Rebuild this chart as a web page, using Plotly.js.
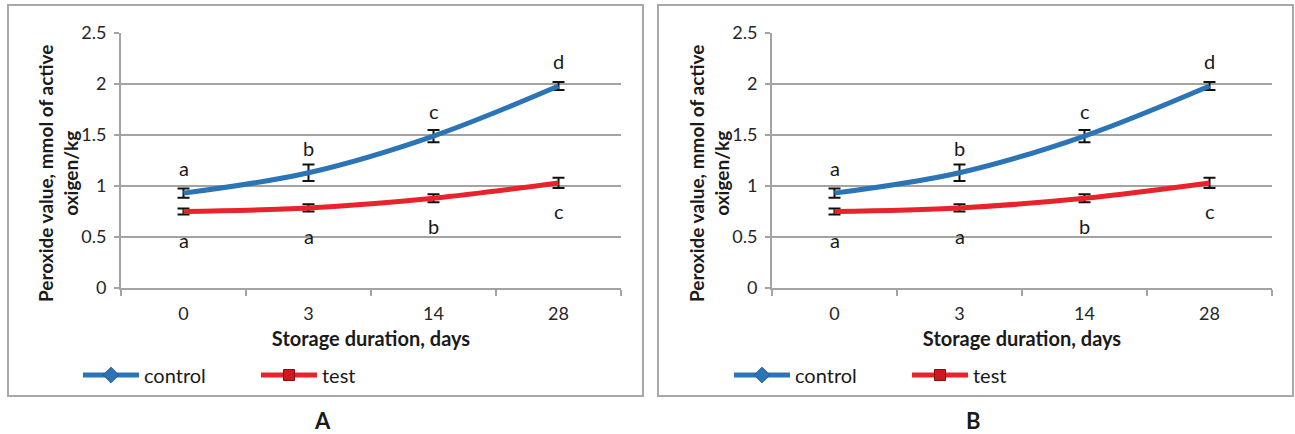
<!DOCTYPE html>
<html>
<head>
<meta charset="utf-8">
<script src="https://cdn.plot.ly/plotly-3.0.1.min.js"></script>
<style>html,body{margin:0;padding:0;background:#fff;}#chart{width:1295px;height:434px;}</style>
</head>
<body>
<div id="chart"></div>
<script>
// ---- data ----
const categories = ['0', '3', '14', '28'];
const controlValues = [0.93, 1.13, 1.49, 1.98];
const controlErrors = [0.045, 0.08, 0.06, 0.04];
const testValues = [0.75, 0.785, 0.88, 1.03];
const testErrors = [0.03, 0.035, 0.04, 0.05];
const controlLetters = ['a', 'b', 'c', 'd'];
const testLetters = ['a', 'a', 'b', 'c'];
const panelLabels = ['A', 'B'];
const seriesNames = ['control', 'test'];

// ---- style ----
const FONT = 'Lato, "Liberation Sans", sans-serif';
const BLUE = '#2b74b5';
const RED = '#e8232b';
const GRID = '#a3a3a3';
const W = 1295, H = 434;

const panels = [
  {xs: '', plotL: 121, plotR: 621, boxL: 8, boxR: 643},
  {xs: '2', plotL: 772, plotR: 1272, boxL: 658, boxR: 1293}
];
const plotT = 33, plotB = 288;

const data = [];
const layout = {
  width: W, height: H,
  margin: {l: 0, r: 0, t: 0, b: 0},
  paper_bgcolor: '#fff', plot_bgcolor: '#fff',
  font: {family: FONT, color: '#1a1a1a'},
  showlegend: true,
  shapes: [], annotations: []
};

panels.forEach((p, i) => {
  const xa = 'x' + p.xs, ya = 'y' + p.xs;
  const lg = i === 0 ? 'legend' : 'legend2';
  data.push({
    x: categories, y: controlValues, xaxis: xa, yaxis: ya,
    type: 'scatter', mode: 'lines', name: seriesNames[0], showlegend: false,
    line: {color: BLUE, width: 5, shape: 'spline', smoothing: 1},
    error_y: {type: 'data', array: controlErrors, visible: true, color: '#111', thickness: 2, width: 6}
  });
  data.push({
    x: categories, y: testValues, xaxis: xa, yaxis: ya,
    type: 'scatter', mode: 'lines', name: seriesNames[1], showlegend: false,
    line: {color: RED, width: 5, shape: 'spline', smoothing: 1},
    error_y: {type: 'data', array: testErrors, visible: true, color: '#111', thickness: 2, width: 6}
  });
  data.push({
    x: [null], y: [null], xaxis: xa, yaxis: ya, legend: lg,
    type: 'scatter', mode: 'lines+markers', name: seriesNames[0],
    line: {color: BLUE, width: 5},
    marker: {symbol: 'diamond', size: 12, color: BLUE, line: {color: '#1f5a8f', width: 1}}
  });
  data.push({
    x: [null], y: [null], xaxis: xa, yaxis: ya, legend: lg,
    type: 'scatter', mode: 'lines+markers', name: seriesNames[1],
    line: {color: RED, width: 5},
    marker: {symbol: 'square', size: 11, color: '#d0161e', line: {color: '#8f0c10', width: 1}}
  });

  layout['xaxis' + p.xs] = {
    domain: [p.plotL / W, p.plotR / W], anchor: ya,
    type: 'category', range: [-0.5, 3.5],
    showline: true, linecolor: GRID, linewidth: 2,
    ticks: 'outside', tickson: 'boundaries', ticklen: 6, tickwidth: 2, tickcolor: GRID,
    ticklabelstandoff: 8,
    showgrid: false, zeroline: false,
    tickfont: {family: FONT, size: 18, color: '#262626'},
    title: {text: '<b>Storage duration, days</b>', font: {family: FONT, size: 20, color: '#1a1a1a'}, standoff: 9}
  };
  layout['yaxis' + p.xs] = {
    domain: [1 - plotB / H, 1 - plotT / H], anchor: xa,
    range: [0, 2.5], dtick: 0.5, tick0: 0,
    showline: true, linecolor: GRID, linewidth: 2,
    ticks: 'outside', ticklen: 5, tickwidth: 1.5, tickcolor: GRID,
    showgrid: true, gridcolor: GRID, gridwidth: 2, zeroline: false,
    tickfont: {family: FONT, size: 18, color: '#262626'},
    ticklabelstandoff: 4
  };
  layout[lg] = {
    orientation: 'h', x: (p.plotL - 43) / W, xanchor: 'left',
    y: 1 - 375 / H, yanchor: 'middle',
    font: {family: FONT, size: 20, color: '#1a1a1a'},
    itemwidth: 56, entrywidth: 107, itemclick: false, itemdoubleclick: false,
    bgcolor: 'rgba(0,0,0,0)'
  };

  layout.shapes.push({
    type: 'rect', xref: 'paper', yref: 'paper',
    x0: p.boxL / W, x1: p.boxR / W, y0: 1 - 396 / H, y1: 1 - 5 / H,
    line: {color: '#a8a8a8', width: 2}
  });

  layout.annotations.push({
    xref: 'paper', yref: 'paper', x: (p.plotL - 63) / W, y: 1 - 174 / H,
    xanchor: 'center', yanchor: 'middle',
    text: '<b>Peroxide value, mmol of active<br>oxigen/kg</b>', textangle: -90,
    showarrow: false, font: {family: FONT, size: 19, color: '#1a1a1a'}, align: 'center'
  });
  layout.annotations.push({
    xref: 'paper', yref: 'paper', x: ((p.plotL + p.plotR) / 2 - 49) / W, y: 1 - 420 / H,
    xanchor: 'center', yanchor: 'middle',
    text: '<b>' + panelLabels[i] + '</b>', showarrow: false,
    font: {family: FONT, size: 22, color: '#1a1a1a'}
  });
  categories.forEach((c, k) => {
    layout.annotations.push({
      xref: xa, yref: ya, x: k, y: controlValues[k], yshift: 25,
      xanchor: 'center', yanchor: 'middle',
      text: controlLetters[k], showarrow: false,
      font: {family: FONT, size: 20, color: '#1a1a1a'}
    });
    layout.annotations.push({
      xref: xa, yref: ya, x: k, y: testValues[k], yshift: -28,
      xanchor: 'center', yanchor: 'middle',
      text: testLetters[k], showarrow: false,
      font: {family: FONT, size: 20, color: '#1a1a1a'}
    });
  });
});

Plotly.newPlot('chart', data, layout, {staticPlot: true, displayModeBar: false});
</script>
</body>
</html>
